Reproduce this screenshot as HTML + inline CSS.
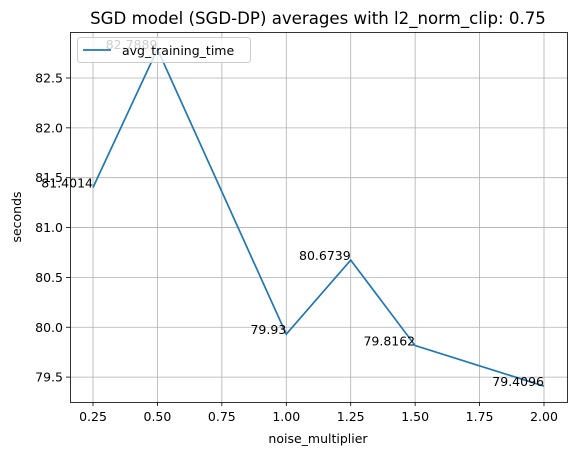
<!DOCTYPE html>
<html><head><meta charset="utf-8"><style>
body{margin:0;background:#fff;}
svg{font-family:"DejaVu Sans","Liberation Sans",sans-serif;}
</style></head><body>
<svg width="576" height="455">
<text x="318" y="24" font-size="16.6" text-anchor="middle">SGD model (SGD-DP) averages with l2_norm_clip: 0.75</text>
<g id="grid"></g>
<g id="xt"></g>
<g id="yt"></g>
<polyline id="line" fill="none" stroke="#1f77b4" stroke-width="1.7"/>
<g id="lbl"></g>
<rect x="70.5" y="32.5" width="497" height="370" fill="none" stroke="#000" stroke-width="0.8"/>
<text x="318" y="443" font-size="12.5" text-anchor="middle">noise_multiplier</text>
<text transform="translate(21,217) rotate(-90)" font-size="12.5" text-anchor="middle">seconds</text>
<g>
<rect x="77.5" y="37.5" width="173" height="25" rx="3" fill="#fff" fill-opacity="0.8" stroke="#ccc"/>
<line x1="83" y1="50" x2="111" y2="50" stroke="#1f77b4" stroke-width="1.7"/>
<text x="122" y="55" font-size="12.5">avg_training_time</text>
</g>
</svg>
<script>
const xs=[0.25,0.5,1.0,1.25,1.5,2.0];
const ys=[81.4014,82.7889,79.93,80.6739,79.8162,79.4096];
const labels=["81.4014","82.7889","79.93","80.6739","79.8162","79.4096"];
const xTicks=[0.25,0.5,0.75,1.0,1.25,1.5,1.75,2.0];
const yTicks=[79.5,80.0,80.5,81.0,81.5,82.0,82.5];
const X=v=>93+(v-0.25)*(451/1.75);
const Yf=v=>78+(82.5-v)*99.7;
const NS="http://www.w3.org/2000/svg";
function mk(tag,attrs,parent,txt){const e=document.createElementNS(NS,tag);for(const k in attrs)e.setAttribute(k,attrs[k]);if(txt!==undefined)e.textContent=txt;document.getElementById(parent).appendChild(e);return e;}
xTicks.forEach(t=>{
 const x=X(t);
 const g=mk('line',{x1:x,y1:32,x2:x,y2:402,stroke:'#b0b0b0','stroke-width':0.8},'grid');
 
 
 const tk=mk('line',{x1:x,y1:402,x2:x,y2:406,stroke:'#000','stroke-width':0.8},'xt');
 
 
 const l=mk('text',{x:x,y:421,'font-size':12.5,'text-anchor':'middle'},'xt',t.toFixed(2));
 
 
});
yTicks.forEach(t=>{
 const y=Yf(t);
 const g=mk('line',{x1:70,y1:y,x2:568,y2:y,stroke:'#b0b0b0','stroke-width':0.8},'grid');
 
 
 const tk=mk('line',{x1:66,y1:y,x2:70,y2:y,stroke:'#000','stroke-width':0.8},'yt');
 
 
 const l=mk('text',{x:63,y:y+4.5,'font-size':12.5,'text-anchor':'end'},'yt',t.toFixed(1));
 
 
});
document.getElementById('line').setAttribute('points',xs.map((v,i)=>X(v)+','+Yf(ys[i])).join(' '));
labels.forEach((s,i)=>{
 const t=mk('text',{x:X(xs[i]),y:Yf(ys[i]),'font-size':12.5,'text-anchor':'end'},'lbl',s);
 
 
});
</script>
</body></html>
